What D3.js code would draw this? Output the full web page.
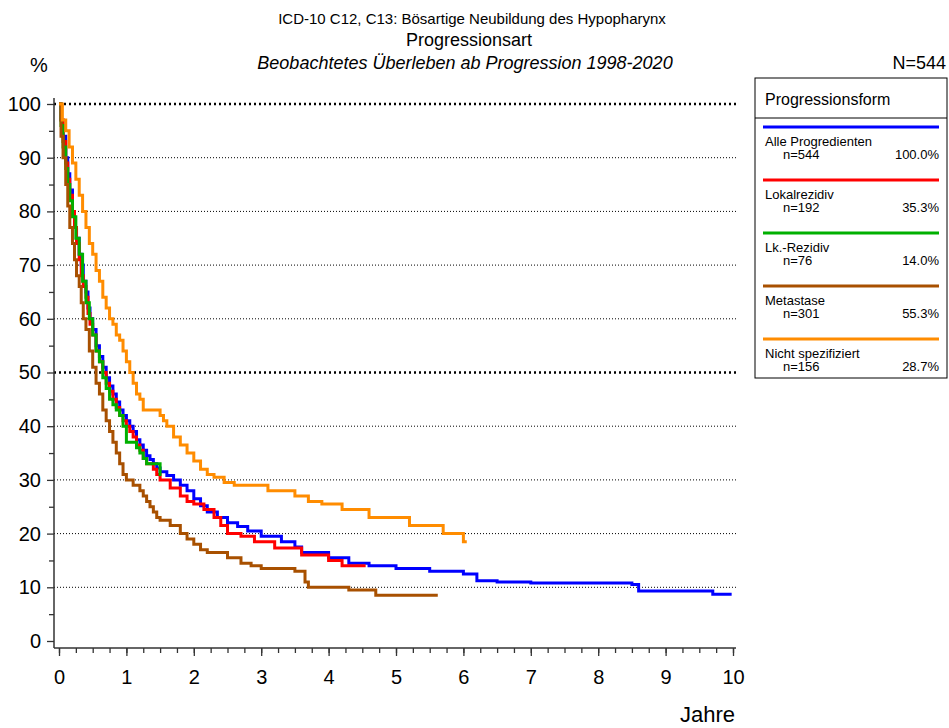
<!DOCTYPE html>
<html><head><meta charset="utf-8">
<script src="https://cdn.jsdelivr.net/npm/d3@7"></script>
<style>body{margin:0;background:#fff}text{font-family:Arial,"Liberation Sans",sans-serif;fill:#000}</style>
</head><body><svg id="c" width="949" height="728"></svg>
<script>
// Survival steps [years, percent]
var alle = [[0,100],[0.03,97],[0.06,94],[0.1,90],[0.13,87],[0.16,84],[0.2,80],[0.23,77],[0.26,75],[0.3,72],[0.33,70],[0.36,67],[0.4,65],[0.43,62],[0.46,60],[0.5,58],[0.55,55],[0.6,53],[0.65,51],[0.7,49],[0.75,47.5],[0.8,46],[0.85,44.5],[0.9,43],[0.95,42],[1.0,41],[1.05,40],[1.1,39],[1.15,37.5],[1.2,36.5],[1.25,35.5],[1.3,34.5],[1.35,33.8],[1.4,33],[1.45,32.2],[1.5,31.5],[1.6,30.8],[1.7,30],[1.8,29],[1.9,28],[2.0,26.5],[2.1,25.2],[2.2,24],[2.35,23],[2.5,22],[2.65,21.3],[2.8,20.5],[3.0,19.5],[3.3,18.5],[3.5,17.5],[3.6,16.5],[4.0,15.5],[4.3,14.5],[4.6,14],[5.0,13.5],[5.5,13],[6.0,12.5],[6.2,11.2],[6.5,11],[7.0,10.8],[8.5,10.5],[8.6,9.3],[9.5,9.3],[9.7,8.7],[9.98,8.7]];
var lokal = [[0,100],[0.03,97],[0.06,93],[0.1,89],[0.13,86],[0.16,83],[0.2,80],[0.23,77],[0.26,74],[0.3,71],[0.33,68],[0.36,66],[0.4,64],[0.43,61],[0.46,59],[0.5,57],[0.55,54],[0.6,52],[0.65,50],[0.7,48],[0.75,46.5],[0.8,45],[0.85,43.5],[0.9,42],[0.95,41],[1.0,40],[1.05,39],[1.1,38],[1.15,36.5],[1.2,35.5],[1.25,34],[1.3,33],[1.4,32],[1.45,31],[1.5,30],[1.65,28.5],[1.8,27],[1.9,26],[2.0,25.5],[2.15,24.5],[2.3,23],[2.4,21.5],[2.5,20],[2.7,19.5],[2.9,18.5],[3.2,17.3],[3.6,16],[4.0,15],[4.2,14],[4.55,14]];
var lk = [[0,100],[0.03,96],[0.06,92],[0.1,88],[0.13,85],[0.16,82],[0.2,79],[0.25,75],[0.3,72],[0.35,67],[0.4,63],[0.45,60],[0.5,57],[0.55,54],[0.6,52],[0.65,49],[0.7,47],[0.75,45],[0.8,44],[0.85,43],[0.9,42],[0.95,40],[1.0,37],[1.1,37],[1.15,36],[1.2,35],[1.25,34],[1.3,33],[1.5,31],[1.52,31]];
var meta = [[0,100],[0.03,94],[0.06,90],[0.1,85],[0.13,81],[0.16,77],[0.2,74],[0.23,71],[0.26,68],[0.3,66],[0.33,63],[0.36,60],[0.4,58],[0.45,54],[0.5,51],[0.55,48],[0.6,46],[0.65,43],[0.7,41],[0.75,39],[0.8,37],[0.85,35],[0.9,33],[0.95,31],[1.0,30],[1.1,29],[1.2,28],[1.25,27],[1.3,26],[1.35,25],[1.4,24],[1.45,23],[1.5,22.5],[1.65,21.5],[1.8,20],[1.9,19],[2.0,18],[2.1,17],[2.2,16.5],[2.5,15.5],[2.7,14.5],[2.85,14],[3.0,13.5],[3.5,13],[3.65,11],[3.7,10],[4.0,10],[4.3,9.5],[4.7,8.5],[5.62,8.5]];
var nicht = [[0,100],[0.05,97],[0.1,95],[0.15,92],[0.2,89],[0.25,86],[0.3,83],[0.35,80],[0.4,77],[0.45,74],[0.5,72],[0.55,69],[0.6,67],[0.65,64],[0.7,62],[0.75,60],[0.8,59],[0.85,57],[0.9,56],[0.95,54],[1.0,52],[1.05,50],[1.1,48],[1.15,46],[1.2,45],[1.25,43],[1.4,43],[1.5,42],[1.55,41],[1.6,40],[1.7,38],[1.8,36.5],[1.9,35],[2.0,33.5],[2.1,32],[2.2,31],[2.3,30.5],[2.45,29.5],[2.6,29],[3.1,28],[3.5,27],[3.7,26],[3.9,25.5],[4.2,24.5],[4.6,23],[5.2,21.5],[5.7,20],[6.0,18.5],[6.05,18.5]];

var names = ["Alle Progredienten","Lokalrezidiv","Lk.-Rezidiv","Metastase","Nicht spezifiziert"];
var counts = ["n=544","n=192","n=76","n=301","n=156"];
var pcts = ["100.0%","35.3%","14.0%","55.3%","28.7%"];
var colors = ["#0000ff","#ff0000","#00b000","#a85000","#ff8c00"];
var series = [alle, lokal, lk, meta, nicht];

var svg = d3.select("#c");
var x = d3.scaleLinear().domain([0,10]).range([59,733]);
var y = d3.scaleLinear().domain([0,100]).range([641,104]);

// titles
svg.append("text").attr("x",472).attr("y",24).attr("text-anchor","middle").style("font-size","15px").text("ICD-10 C12, C13: Bösartige Neubildung des Hypopharynx");
svg.append("text").attr("x",469).attr("y",46).attr("text-anchor","middle").style("font-size","18px").text("Progressionsart");
svg.append("text").attr("x",465).attr("y",69).attr("text-anchor","middle").style("font-size","18px").style("font-style","italic").text("Beobachtetes Überleben ab Progression 1998-2020");
svg.append("text").attr("x",30).attr("y",72).style("font-size","20px").text("%");
svg.append("text").attr("x",946).attr("y",69).attr("text-anchor","end").style("font-size","18px").text("N=544");
svg.append("text").attr("x",735).attr("y",722).attr("text-anchor","end").style("font-size","22px").text("Jahre");

// grid
[10,20,30,40,50,60,70,80,90,100].forEach(function (v) {
    var thick = (v === 50 || v === 100);
    svg.append("line").attr("x1",54).attr("x2",736).attr("y1",y(v)).attr("y2",y(v))
        .attr("stroke","#000").attr("stroke-width",thick ? 2.5 : 1).attr("stroke-dasharray",thick ? "2,3" : "1,2");
});

// axes
svg.append("g").attr("transform","translate(54,0)")
    .call(d3.axisLeft(y).tickValues(d3.range(0,101,10)).tickSize(7).tickPadding(6));
svg.append("g").attr("transform","translate(54,0)")
    .call(d3.axisLeft(y).tickValues(d3.range(5,100,10)).tickSize(5).tickFormat(""));
svg.append("g").attr("transform","translate(0,648)")
    .call(d3.axisBottom(x).tickValues(d3.range(0,11)).tickSize(8).tickPadding(14));
svg.append("g").attr("transform","translate(0,648)")
    .call(d3.axisBottom(x).tickValues(d3.range(0,10.01,0.25)).tickSize(5).tickFormat(""));
svg.selectAll(".domain").remove();
svg.append("line").attr("x1",54).attr("x2",54).attr("y1",98).attr("y2",648).attr("stroke","#333").attr("stroke-width",1.5);
svg.append("line").attr("x1",54).attr("x2",736).attr("y1",648).attr("y2",648).attr("stroke","#333").attr("stroke-width",1.5);
svg.selectAll(".tick text").style("font-size","20px").style("font-family","Arial,'Liberation Sans',sans-serif");
svg.selectAll(".tick line").attr("stroke","#333").attr("stroke-width",1.3);

// curves
var line = d3.line().x(function (d) { return x(d[0]); }).y(function (d) { return y(d[1]); }).curve(d3.curveStepAfter);
series.forEach(function (s, i) {
    svg.append("path").datum(s).attr("d",line).attr("fill","none")
        .attr("stroke",colors[i]).attr("stroke-width",3);
});

// legend
var lg = svg.append("g");
lg.append("rect").attr("x",755).attr("y",78).attr("width",192).attr("height",300).attr("fill","#fff").attr("stroke","#000");
lg.append("line").attr("x1",755).attr("x2",947).attr("y1",118).attr("y2",118).attr("stroke","#000");
lg.append("text").attr("x",765).attr("y",105).style("font-size","16px").text("Progressionsform");
names.forEach(function (n, i) {
    var top = 127 + i * 53;
    lg.append("line").attr("x1",763).attr("x2",939).attr("y1",top).attr("y2",top).attr("stroke",colors[i]).attr("stroke-width",3);
    lg.append("text").attr("x",765).attr("y",top + 19).style("font-size","13px").text(n);
    lg.append("text").attr("x",783).attr("y",top + 32).style("font-size","13px").text(counts[i]);
    lg.append("text").attr("x",939).attr("y",top + 32).attr("text-anchor","end").style("font-size","13px").text(pcts[i]);
});
</script></body></html>
